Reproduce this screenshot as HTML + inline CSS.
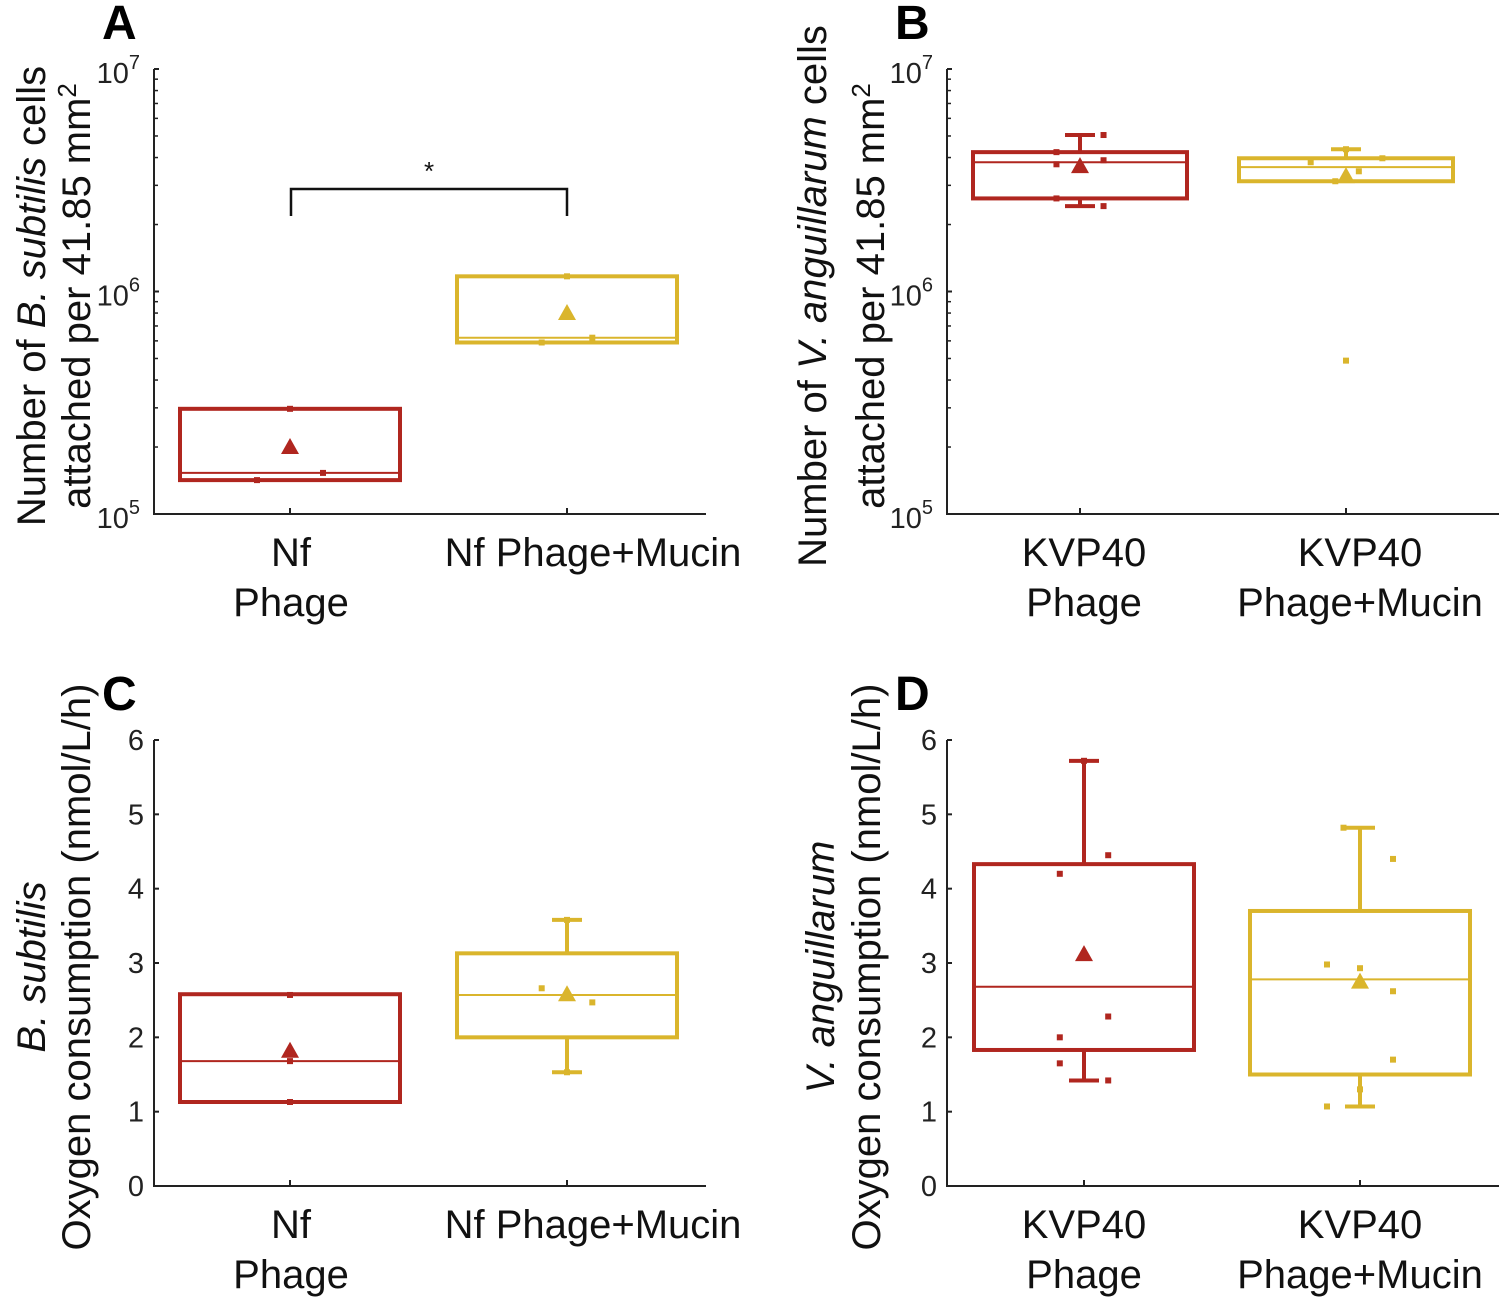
<!DOCTYPE html>
<html><head><meta charset="utf-8"><style>
body{margin:0;background:#fff}
svg{display:block;font-family:"Liberation Sans",Arial,sans-serif}
</style></head><body>
<svg id="fig" width="1500" height="1298" viewBox="0 0 1500 1298"></svg>
<script>
const RED="#b0261f", YEL="#dab52c";
// Panel A (log scale)
const catsA=["Nf\nPhage","Nf Phage+Mucin"];
const boxA=[{q1:1.42e5,med:1.53e5,q3:2.97e5,lo:null,hi:null,mean:2.0e5},{q1:5.9e5,med:6.2e5,q3:1.17e6,lo:null,hi:null,mean:8.0e5}];
const ptsA=[[[ -0.3,1.42e5],[0,2.97e5],[0.3,1.53e5]],[[-0.23,5.9e5],[0,1.17e6],[0.23,6.2e5]]];
// Panel B (log scale)
const catsB=["KVP40\nPhage","KVP40\nPhage+Mucin"];
const boxB=[{q1:2.62e6,med:3.81e6,q3:4.23e6,lo:2.42e6,hi:5.05e6,mean:3.66e6},{q1:3.13e6,med:3.62e6,q3:3.97e6,lo:null,hi:4.36e6,mean:3.30e6}];
const ptsB=[[[-0.22,4.23e6],[-0.22,3.73e6],[-0.22,2.62e6],[0.22,5.05e6],[0.22,3.89e6],[0.22,2.42e6]],
            [[-0.33,3.81e6],[-0.1,3.13e6],[0,4.36e6],[0.12,3.47e6],[0.34,3.97e6],[0,4.89e5]]];
// Panel C (linear)
const catsC=["Nf\nPhage","Nf Phage+Mucin"];
const boxC=[{q1:1.13,med:1.68,q3:2.58,lo:null,hi:null,mean:1.82},{q1:2.0,med:2.57,q3:3.13,lo:1.53,hi:3.58,mean:2.58}];
const ptsC=[[[0,2.57],[0,1.68],[0,1.13]],[[-0.23,2.66],[0.23,2.47],[0,3.58],[0,1.53]]];
// Panel D (linear)
const catsD=["KVP40\nPhage","KVP40\nPhage+Mucin"];
const boxD=[{q1:1.83,med:2.68,q3:4.33,lo:1.42,hi:5.72,mean:3.12},{q1:1.5,med:2.78,q3:3.7,lo:1.07,hi:4.82,mean:2.75}];
const ptsD=[[[-0.22,4.2],[-0.22,2.0],[-0.22,1.65],[0.22,4.45],[0.22,2.28],[0.22,1.42],[0,5.72]],
            [[-0.3,2.98],[-0.3,1.07],[-0.15,4.82],[0,2.93],[0,1.3],[0.3,4.4],[0.3,2.62],[0.3,1.7]]];
const linTicks=["0","1","2","3","4","5","6"];

const svg=document.getElementById('fig');
const NS="http://www.w3.org/2000/svg";
function mk(t,a,p){const e=document.createElementNS(NS,t);for(const k in a)e.setAttribute(k,a[k]);(p||svg).appendChild(e);return e;}

function panel(o){
  const g=mk('g',{});
  
  
  const y=o.log?(v=>o.y0-(Math.log10(v)-o.lmin)*(o.y0-o.y1)/(o.lmax-o.lmin)):(v=>o.y0-v*(o.y0-o.y1)/6);
  const cx=i=>o.cx[i];
  const ax=mk('path',{d:`M${o.ax},${o.y1} V${o.y0} H${o.ax+552}`,stroke:'#222','stroke-width':2,fill:'none'},g);
  
  
  if(o.log){
    for(let d=o.lmin;d<=o.lmax;d++){
      mk('line',{x1:o.ax,x2:o.ax+5,y1:y(10**d),y2:y(10**d),stroke:'#222','stroke-width':2},g);
      const t=mk('text',{x:o.ax-14,y:y(10**d)+14,'font-size':29,'text-anchor':'end',fill:'#222'},g);
      
      
      t.innerHTML=`10<tspan dy="-14" font-size="20">${d}</tspan>`;
      if(d<o.lmax)for(let m=2;m<10;m++)mk('line',{x1:o.ax,x2:o.ax+4,y1:y(m*10**d),y2:y(m*10**d),stroke:'#222','stroke-width':1.5},g);
    }
  } else {
    linTicks.forEach((lb,i)=>{
      mk('line',{x1:o.ax,x2:o.ax+5,y1:y(+lb),y2:y(+lb),stroke:'#222','stroke-width':2},g);
      const t=mk('text',{x:o.ax-10,y:y(+lb)+10,'font-size':29,'text-anchor':'end',fill:'#222'},g);
      
      
      t.textContent=lb;
    });
  }
  o.cats.forEach((c,i)=>{
    mk('line',{x1:cx(i),x2:cx(i),y1:o.y0,y2:o.y0-6,stroke:'#222','stroke-width':2},g);
    c.split('\n').forEach((ln,j)=>{
      const t=mk('text',{x:o.lx[i],y:o.y0+52+j*50,'font-size':40,'text-anchor':'middle',fill:'#111'},g);
      
      
      t.textContent=ln;
    });
  });
  o.box.forEach((b,i)=>{
    const col=i?YEL:RED, hw=o.hw;
    const bg=mk('g',{stroke:col,fill:'none','stroke-width':4},g);
    
    
    mk('rect',{x:cx(i)-hw,y:y(b.q3),width:2*hw,height:y(b.q1)-y(b.q3)},bg);
    mk('line',{x1:cx(i)-hw,x2:cx(i)+hw,y1:y(b.med),y2:y(b.med),'stroke-width':2},bg);
    if(b.hi!=null){mk('line',{x1:cx(i),x2:cx(i),y1:y(b.q3),y2:y(b.hi)},bg);mk('line',{x1:cx(i)-15,x2:cx(i)+15,y1:y(b.hi),y2:y(b.hi)},bg);}
    if(b.lo!=null){mk('line',{x1:cx(i),x2:cx(i),y1:y(b.q1),y2:y(b.lo)},bg);mk('line',{x1:cx(i)-15,x2:cx(i)+15,y1:y(b.lo),y2:y(b.lo)},bg);}
    o.pts[i].forEach(p=>{
      const r=mk('rect',{x:cx(i)+p[0]*hw-3,y:y(p[1])-3,width:6,height:6,fill:col,stroke:'none'},g);
      
      
    });
    const my=y(b.mean);
    const tri=mk('path',{d:`M${cx(i)},${my-9} L${cx(i)+9},${my+7} L${cx(i)-9},${my+7}Z`,fill:col},g);
    
    
  });
  const L=mk('text',{x:o.ax-52,y:o.y1-30,'font-size':48,'font-weight':'bold',fill:'#000'},g);
  
  
  L.textContent=o.letter;
  o.ytitle.forEach((ln,j)=>{
    const t=mk('text',{transform:`translate(${o.tx[j]},${o.ty}) rotate(-90)`,'font-size':40,'text-anchor':'middle',fill:'#111'},g);
    
    
    t.innerHTML=ln;
  });
  return y;
}

panel({name:'panel-a',letter:'A',log:true,lmin:5,lmax:7,ax:154,y0:514,y1:69,cx:[290,567],lx:[291,593],hw:110,cats:catsA,box:boxA,pts:ptsA,
  ytitle:['Number of <tspan font-style="italic">B. subtilis</tspan> cells','attached per 41.85 mm<tspan dy="-14" font-size="26">2</tspan>'],tx:[45,90],ty:296});
panel({name:'panel-b',letter:'B',log:true,lmin:5,lmax:7,ax:947,y0:514,y1:69,cx:[1080,1346],lx:[1084,1360],hw:107,cats:catsB,box:boxB,pts:ptsB,
  ytitle:['Number of <tspan font-style="italic">V. anguillarum</tspan> cells','attached per 41.85 mm<tspan dy="-14" font-size="26">2</tspan>'],tx:[826,884],ty:296});
panel({name:'panel-c',letter:'C',log:false,ax:154,y0:1186,y1:740,cx:[290,567],lx:[291,593],hw:110,cats:catsC,box:boxC,pts:ptsC,
  ytitle:['<tspan font-style="italic">B. subtilis</tspan>','Oxygen consumption (nmol/L/h)'],tx:[45,90],ty:967});
panel({name:'panel-d',letter:'D',log:false,ax:947,y0:1186,y1:740,cx:[1084,1360],lx:[1084,1360],hw:110,cats:catsD,box:boxD,pts:ptsD,
  ytitle:['<tspan font-style="italic">V. anguillarum</tspan>','Oxygen consumption (nmol/L/h)'],tx:[834,880],ty:967});

const br=mk('path',{d:'M291,216 V189 H567 V216',stroke:'#111','stroke-width':2.5,fill:'none'});


const st=mk('text',{x:429,y:180,'font-size':26,'text-anchor':'middle',fill:'#111'});


st.textContent='*';
</script>
</body></html>
